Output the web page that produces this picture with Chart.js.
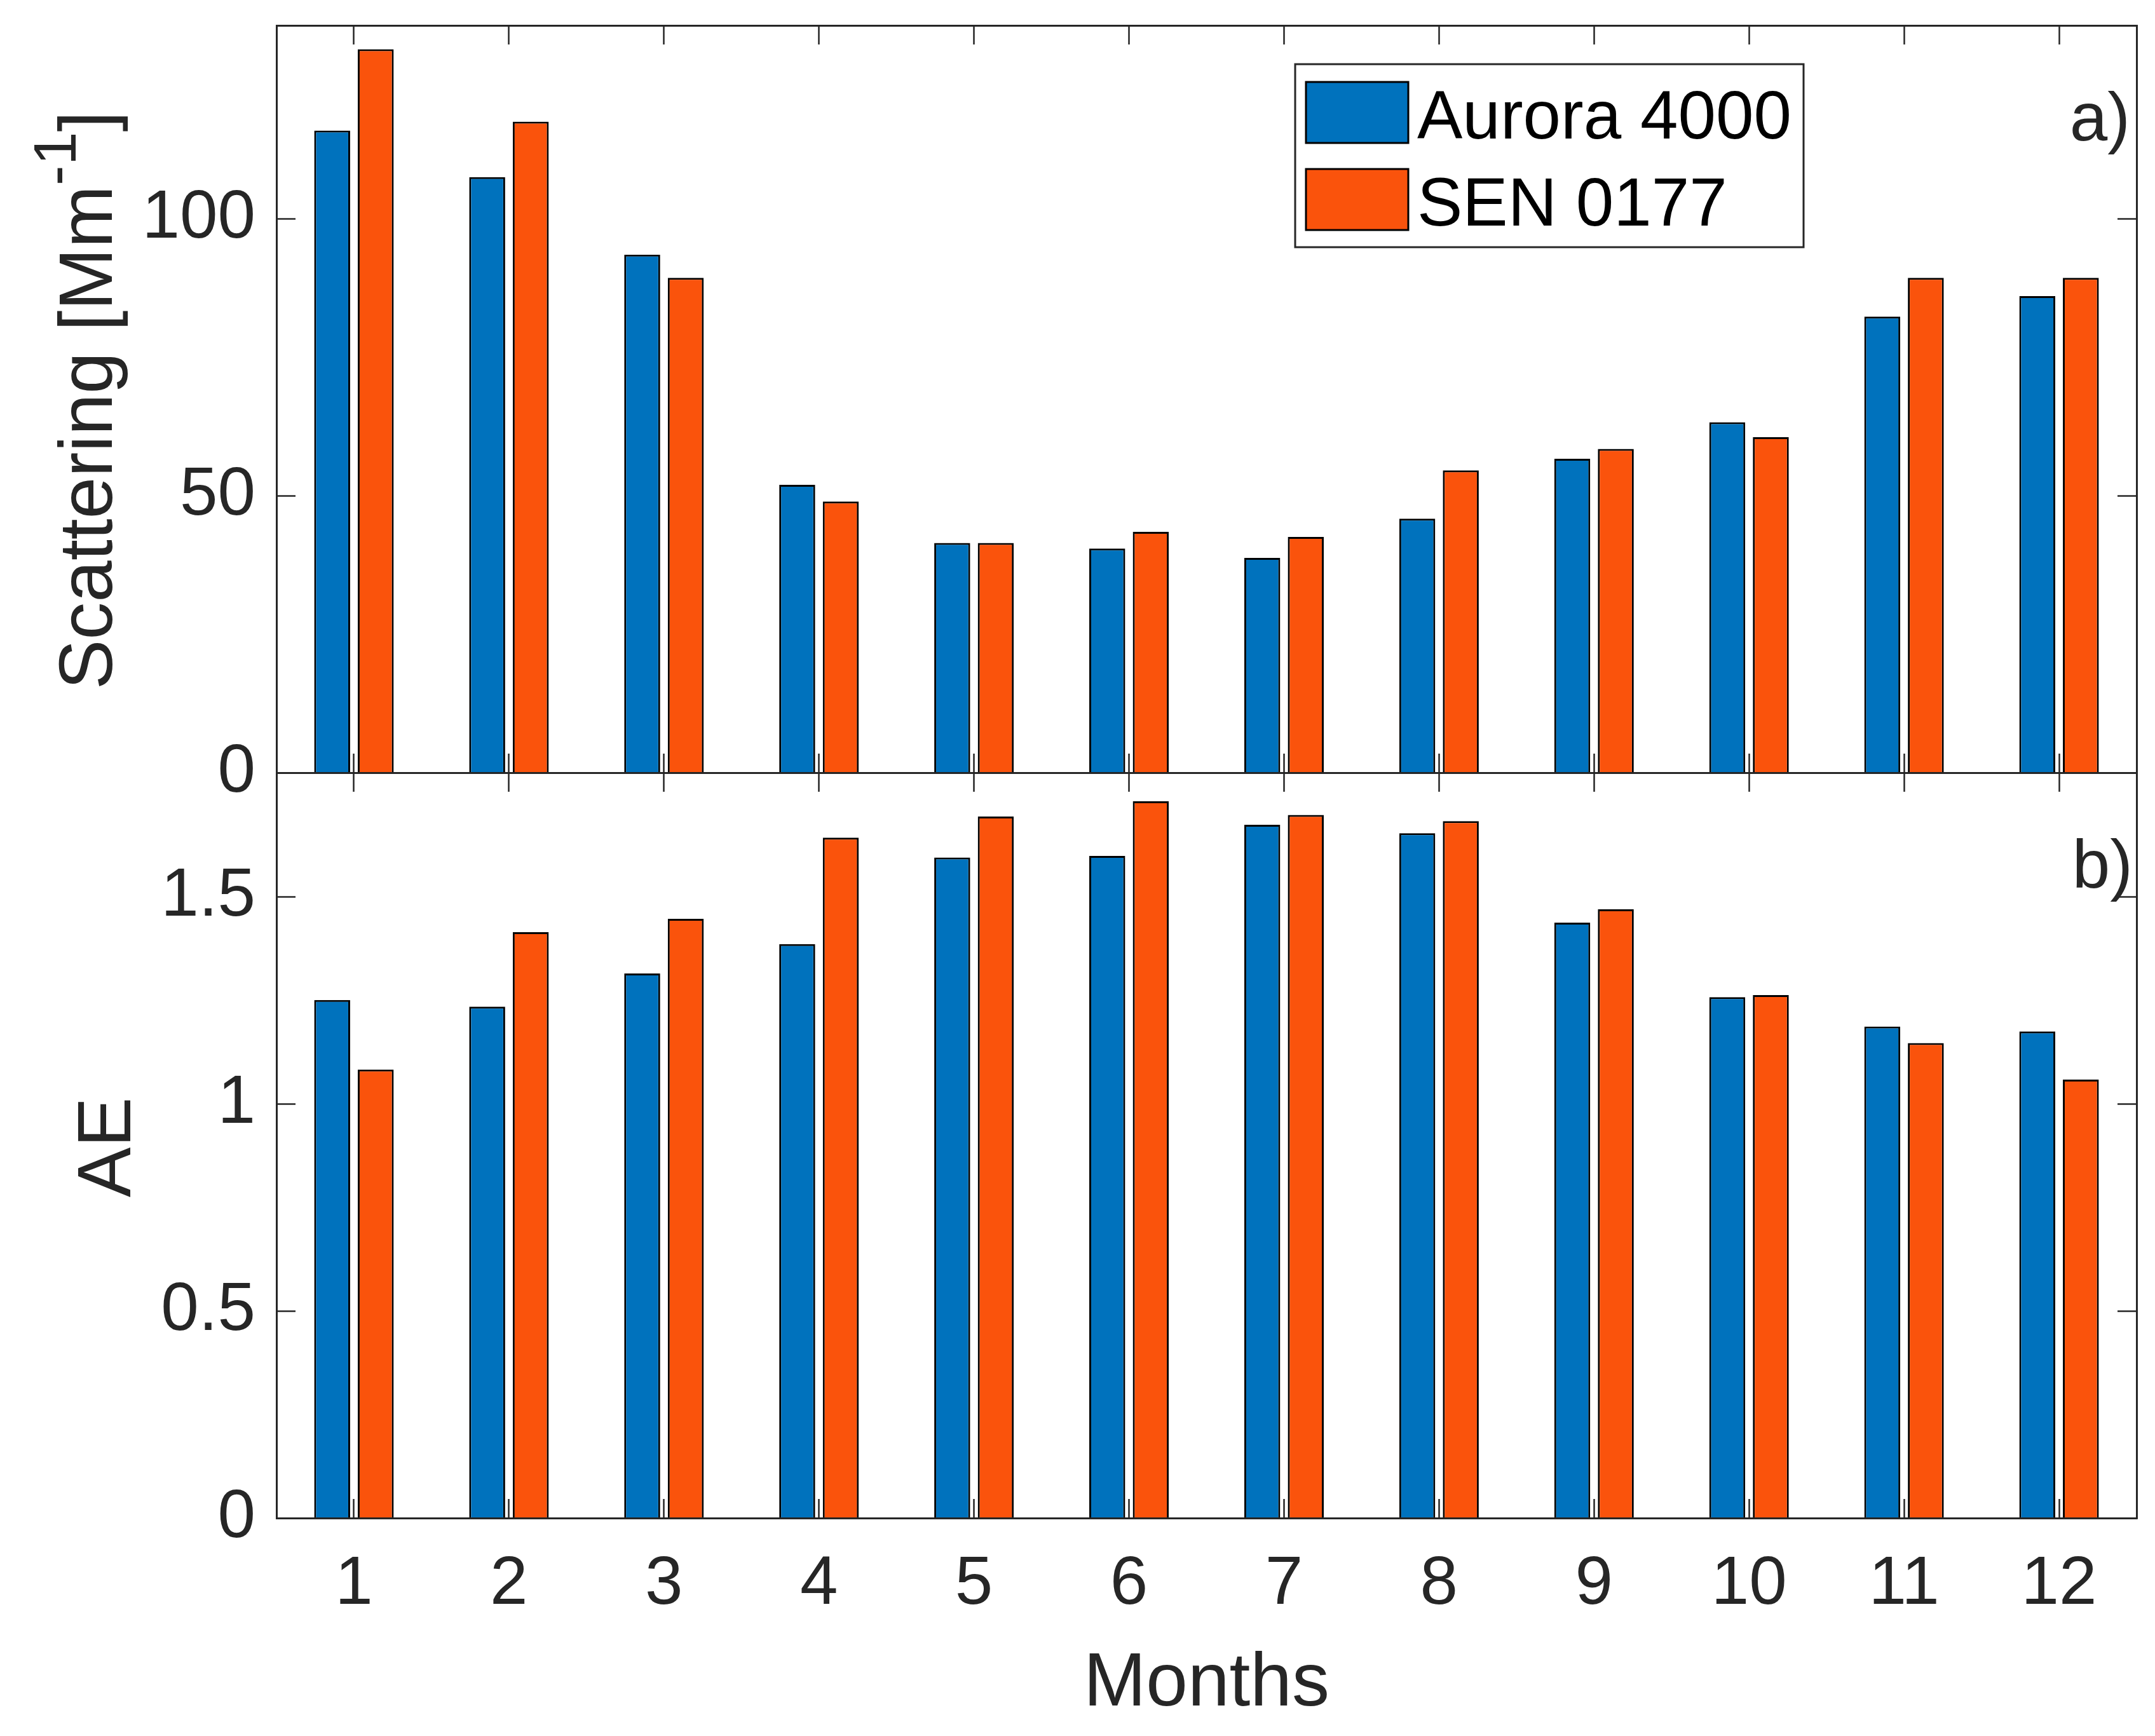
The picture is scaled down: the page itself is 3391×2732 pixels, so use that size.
<!DOCTYPE html>
<html>
<head>
<meta charset="utf-8">
<script src="https://cdn.jsdelivr.net/npm/chart.js@4.4.1/dist/chart.umd.min.js"></script>
<style>
  html, body { margin: 0; padding: 0; background: #fff; }
  #wrap { position: relative; width: 3391px; height: 2732px; }
  canvas { position: absolute; left: 0; top: 0; }
</style>
</head>
<body>
<div id="wrap">
  <canvas id="scat" width="3391" height="2732"></canvas>
  <canvas id="ae" width="3391" height="2732"></canvas>
</div>
<script>
/* ── Data ───────────────────────────────────────────────────── */
const months = ['1', '2', '3', '4', '5', '6', '7', '8', '9', '10', '11', '12'];
const seriesNames = ['Aurora 4000', 'SEN 0177'];
const scatAurora = [116.0, 107.6, 93.6, 52.0, 41.5, 40.5, 38.8, 45.9, 56.7, 63.3, 82.4, 86.1];
const scatSen    = [130.7, 117.6, 89.4, 49.0, 41.5, 43.5, 42.6, 54.6, 58.5, 60.6, 89.4, 89.4];
const aeAurora   = [1.251, 1.235, 1.315, 1.386, 1.595, 1.599, 1.674, 1.654, 1.438, 1.258, 1.187, 1.175];
const aeSen      = [1.083, 1.415, 1.447, 1.643, 1.694, 1.731, 1.698, 1.683, 1.470, 1.263, 1.147, 1.059];
const scatTicks = [0, 50, 100];
const aeTicks = [0, 0.5, 1, 1.5];

/* ── Style ──────────────────────────────────────────────────── */
const INK = '#262626';
const FAMILY = '"Liberation Sans", Arial, sans-serif';
const TICK_SIZE = 107;
const LABEL_SIZE = 118;
const BLUE = '#0072BD';
const ORANGE = '#FA530C';
const LEFT_W = 435;     // left edge of both plot boxes
const PAD_RIGHT = 29;
const XLAB_H = 200;     // room kept for the month labels (labels are clipped to the scale box)

function yAxis(pos, max, ticks, showLabels) {
    return {
        type: 'linear', position: pos, min: 0, max: max,
        afterBuildTicks: s => { s.ticks = ticks.map(v => ({ value: v })); },
        afterFit: s => { s.width = pos === 'left' ? LEFT_W : 0; s.paddingTop = 0; s.paddingBottom = 0; },
        grid: { drawOnChartArea: false, tickLength: -30, tickColor: INK, tickWidth: 2.5, z: 1 },
        border: { display: true, color: INK, width: 3, z: 1 },
        ticks: { display: showLabels, padding: 63, color: INK, font: { family: FAMILY, size: TICK_SIZE }, callback: v => String(v) },
    };
}

function xAxis(pos, showLabels) {
    return {
        type: 'category', position: pos, labels: months, offset: true,
        afterFit: s => { s.height = showLabels ? XLAB_H : 0; s.paddingLeft = 0; s.paddingRight = 0; },
        grid: { offset: false, drawOnChartArea: false, tickLength: -30, tickColor: INK, tickWidth: 2.5, z: 1 },
        border: { display: true, color: INK, width: 3, z: 1 },
        ticks: { display: showLabels, padding: 71, autoSkip: false, maxRotation: 0, color: INK, font: { family: FAMILY, size: TICK_SIZE } },
    };
}

function bars(label, data, color) {
    return {
        label: label, data: data, backgroundColor: color,
        borderColor: '#000', borderWidth: 3,
        categoryPercentage: 0.562, barPercentage: 0.825,
    };
}

function baseOptions(padding, scales, plugin) {
    return {
        type: 'bar',
        data: null,
        options: {
            responsive: false, animation: false, devicePixelRatio: 1, events: [],
            layout: { padding: padding, autoPadding: false },
            plugins: { legend: { display: false }, tooltip: { enabled: false } },
            scales: scales,
        },
        plugins: [plugin],
    };
}

/* ── Text helpers ───────────────────────────────────────────── */
function font(size) { return `${size}px ${FAMILY}`; }

function drawText(ctx, s, x, y, size, align, color) {
    ctx.save();
    ctx.font = font(size);
    ctx.fillStyle = color || INK;
    ctx.textAlign = align;
    ctx.textBaseline = 'alphabetic';
    ctx.fillText(s, x, y);
    ctx.restore();
}

/* ── Top panel: scattering ──────────────────────────────────── */
const scatDecor = {
    id: 'scatDecor',
    afterDraw(chart) {
        const ctx = chart.ctx;
        const a = chart.chartArea;

        // y title with superscript, rotated
        const main = 'Scattering [Mm', sup = '-1', tail = ']';
        const supSize = 95;
        ctx.save();
        ctx.translate(a.left - 259, (a.top + a.bottom) / 2 + 2);
        ctx.rotate(-Math.PI / 2);
        ctx.fillStyle = INK;
        ctx.textBaseline = 'alphabetic';
        ctx.font = font(LABEL_SIZE);
        const w1 = ctx.measureText(main).width, w3 = ctx.measureText(tail).width;
        ctx.font = font(supSize);
        const w2 = ctx.measureText(sup).width;
        let x = -(w1 + w2 + w3) / 2;
        ctx.font = font(LABEL_SIZE);
        ctx.fillText(main, x, 0);
        x += w1;
        ctx.font = font(supSize);
        ctx.fillText(sup, x, -57);
        x += w2;
        ctx.font = font(LABEL_SIZE);
        ctx.fillText(tail, x, 0);
        ctx.restore();

        drawText(ctx, 'a)', a.right - 10, a.top + 181, TICK_SIZE, 'right');

        // legend box
        const lx = 2038, ly = a.top + 61, lw = 800, lh = 288;
        ctx.save();
        ctx.fillStyle = '#fff';
        ctx.fillRect(lx, ly, lw, lh);
        ctx.strokeStyle = INK;
        ctx.lineWidth = 3;
        ctx.strokeRect(lx, ly, lw, lh);
        chart.data.datasets.forEach((ds, i) => {
            const sy = ly + 28 + i * 137;
            ctx.fillStyle = ds.backgroundColor;
            ctx.fillRect(lx + 17, sy, 161, 96);
            ctx.strokeStyle = '#000';
            ctx.lineWidth = 3;
            ctx.strokeRect(lx + 17, sy, 161, 96);
            drawText(ctx, ds.label, lx + 192, sy + 89, TICK_SIZE, 'left', '#000');
        });
        ctx.restore();
    }
};

const scatCfg = baseOptions(
    { left: 0, top: 40, right: PAD_RIGHT, bottom: 2732 - 1216 },
    {
        x: xAxis('bottom', false),
        x2: xAxis('top', false),
        y: yAxis('left', 135, scatTicks, true),
        y2: yAxis('right', 135, scatTicks, false),
    },
    scatDecor
);
scatCfg.data = {
    labels: months,
    datasets: [bars(seriesNames[0], scatAurora, BLUE), bars(seriesNames[1], scatSen, ORANGE)],
};
new Chart(document.getElementById('scat'), scatCfg);

/* ── Bottom panel: AE ───────────────────────────────────────── */
const aeDecor = {
    id: 'aeDecor',
    afterDraw(chart) {
        const ctx = chart.ctx;
        const a = chart.chartArea;
        ctx.save();
        ctx.translate(a.left - 230, (a.top + a.bottom) / 2 + 3);
        ctx.rotate(-Math.PI / 2);
        drawText(ctx, 'AE', 0, 0, LABEL_SIZE, 'center');
        ctx.restore();
        drawText(ctx, 'Months', (a.left + a.right) / 2, a.bottom + 295, LABEL_SIZE, 'center');
        drawText(ctx, 'b)', a.right - 6, a.top + 181, TICK_SIZE, 'right');
    }
};

const aeCfg = baseOptions(
    { left: 0, top: 1216, right: PAD_RIGHT, bottom: 2732 - 2389 - XLAB_H },
    {
        x: xAxis('bottom', true),
        x2: xAxis('top', false),
        y: yAxis('left', 1.8, aeTicks, true),
        y2: yAxis('right', 1.8, aeTicks, false),
    },
    aeDecor
);
aeCfg.data = {
    labels: months,
    datasets: [bars(seriesNames[0], aeAurora, BLUE), bars(seriesNames[1], aeSen, ORANGE)],
};
new Chart(document.getElementById('ae'), aeCfg);
</script>
</body>
</html>
